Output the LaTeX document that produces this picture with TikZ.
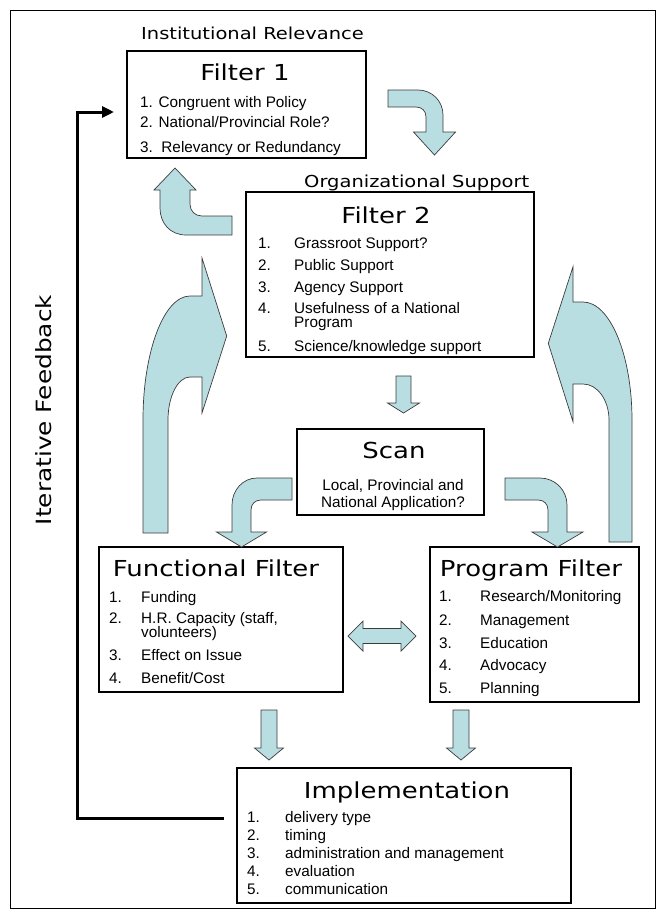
\documentclass[tikz,border=0pt]{standalone}
\usepackage{fontspec}
\setmainfont{Liberation Sans}
\newfontfamily\hfont[FakeStretch=1.18]{DejaVu Sans}
\usetikzlibrary{arrows.meta}
\definecolor{arrowblue}{RGB}{184,222,226}
\definecolor{arrowline}{RGB}{60,60,60}
\begin{document}
\begin{tikzpicture}[x=1pt,y=-1pt,
  box/.style={draw=black, line width=2.5pt, inner sep=0pt, fill=white},
  blk/.style={fill=arrowblue, draw=arrowline, line width=0.7pt, line join=miter},
  head/.style={font=\hfont\fontsize{22}{26}\selectfont, anchor=base, inner sep=0pt},
  sub/.style={font=\hfont\fontsize{16.5}{19}\selectfont, anchor=base, inner sep=0pt},
  item/.style={font=\fontsize{15.3}{18}\selectfont, anchor=base west, inner sep=0pt},
  citem/.style={font=\fontsize{15.3}{18}\selectfont, anchor=base, inner sep=0pt},
  fb/.style={line width=3pt, draw=black, line join=miter},
]
\useasboundingbox (0,0) rectangle (665,919);
\node[draw=black, line width=1pt, minimum width=645pt, minimum height=898pt, inner sep=0pt] (frame) at (332.5,459.5) {};

% boxes
\node[box, minimum width=239pt, minimum height=107pt] (f1) at (246.5,104.5) {};
\node[box, minimum width=288pt, minimum height=165pt] (f2) at (390,274.5) {};
\node[box, minimum width=187pt, minimum height=86pt] (scan) at (390.5,472) {};
\node[box, minimum width=244pt, minimum height=145pt] (func) at (221,619.5) {};
\node[box, minimum width=209pt, minimum height=155pt] (prog) at (534.5,624.5) {};
\node[box, minimum width=334pt, minimum height=135pt] (impl) at (404,835.5) {};

% Filter 1
\node[sub] (t1) at (252.5,39) {Institutional Relevance};
\node[head] (h1) at (245,80) {Filter 1};
\node[item] (f1a) at (140,107) {1. Congruent with Policy};
\node[item] (f1b) at (140,127) {2. National/Provincial Role?};
\node[item] (f1c) at (140,152) {3.\ \ Relevancy or Redundancy};

% Filter 2
\node[sub] (t2) at (416.7,187.5) {Organizational Support};
\node[head] (h2) at (386,223) {Filter 2};
\node[item] (f2n1) at (258,248) {1.};
\node[item] (f2a) at (294,248) {Grassroot Support?};
\node[item] (f2n2) at (258,270) {2.};
\node[item] (f2b) at (294,270) {Public Support};
\node[item] (f2n3) at (258,292) {3.};
\node[item] (f2c) at (294,292) {Agency Support};
\node[item] (f2n4) at (258,313) {4.};
\node[item] (f2d) at (294,313) {Usefulness of a National};
\node[item] (f2d2) at (294,327) {Program};
\node[item] (f2n5) at (258,351) {5.};
\node[item] (f2e) at (294,351) {Science/knowledge support};

% Scan
\node[head] (h3) at (394,458) {Scan};
\node[citem] (sc1) at (393,490) {Local, Provincial and};
\node[citem] (sc2) at (393,507) {National Application?};

% Functional filter
\node[head] (h4) at (216,576) {Functional Filter};
\node[item] (fn1) at (109,602) {1.};
\node[item] (fa) at (141,602) {Funding};
\node[item] (fn2) at (109,623) {2.};
\node[item] (fb1) at (141,623) {H.R. Capacity (staff,};
\node[item] (fb2) at (141,637) {volunteers)};
\node[item] (fn3) at (109,660) {3.};
\node[item] (fc) at (141,660) {Effect on Issue};
\node[item] (fn4) at (109,683) {4.};
\node[item] (fd) at (141,683) {Benefit/Cost};

% Program filter
\node[head] (h5) at (531,576) {Program Filter};
\node[item] (pn1) at (439,601) {1.};
\node[item] (pa) at (480,601) {Research/Monitoring};
\node[item] (pn2) at (439,625) {2.};
\node[item] (pb) at (480,625) {Management};
\node[item] (pn3) at (439,648) {3.};
\node[item] (pc) at (480,648) {Education};
\node[item] (pn4) at (439,670) {4.};
\node[item] (pd) at (480,670) {Advocacy};
\node[item] (pn5) at (439,693) {5.};
\node[item] (pe) at (480,693) {Planning};

% Implementation
\node[head] (h6) at (407,798) {Implementation};
\node[item] (in1) at (247,822) {1.};
\node[item] (ia) at (285,822) {delivery type};
\node[item] (in2) at (247,840) {2.};
\node[item] (ib) at (285,840) {timing};
\node[item] (in3) at (247,858) {3.};
\node[item] (ic) at (285,858) {administration and management};
\node[item] (in4) at (247,876) {4.};
\node[item] (id) at (285,876) {evaluation};
\node[item] (in5) at (247,894) {5.};
\node[item] (ie) at (285,894) {communication};

% Iterative feedback
\node[font=\hfont\fontsize{21}{25}\selectfont, rotate=90, inner sep=0pt] (itf) at (44,410) {Iterative Feedback};
\coordinate (fbs) at (224,818);
\coordinate (fbc1) at (77,818);
\coordinate (fbc2) at (77,112);
\coordinate (fbe) at (114,112);
\draw[fb, -{Triangle[length=12pt,width=11pt]}] (fbs) -- (fbc1) -- (fbc2) -- (fbe);

% block arrows
% A: Filter 1 -> Filter 2
\draw[blk] (388,90) -- (418,90) .. controls (432,90) and (443,101) .. (443,115) -- (443,132) -- (455.5,132) -- (434.5,155) -- (413.5,132) -- (426,132) -- (426,117) .. controls (426,111) and (422,107) .. (416,107) -- (388,107) -- cycle;
% B: Filter 2 -> Filter 1
\draw[blk] (232,216) -- (202,216) .. controls (195,216) and (190,211) .. (190,204) -- (190,190) -- (196,190) -- (175,168) -- (154,190) -- (160,190) -- (160,208) .. controls (160,223) and (170,235) .. (186,235) -- (232,235) -- cycle;
% C: functional -> Filter 2 (left big)
\draw[blk] (143,533) -- (143,420) .. controls (143,351.5) and (164,296) .. (190,296) -- (202,296) -- (202,258) -- (226.7,336) -- (202,413) -- (202,377) -- (190,377) .. controls (177.9,377) and (168,396.3) .. (168,420) -- (168,533) -- cycle;
% D: program -> Filter 2 (right big)
\draw[blk] (632,542) -- (632,420) .. controls (632,354.9) and (610,302) .. (583,302) -- (573,302) -- (573,266.7) -- (548.3,343.3) -- (573,421.7) -- (573,384) -- (583,384) .. controls (597.4,384) and (609,400.1) .. (609,420) -- (609,542) -- cycle;
% E: Filter 2 -> Scan
\draw[blk] (396,376) -- (411,376) -- (411,403) -- (419.5,403) -- (403.5,413) -- (387.5,403) -- (396,403) -- cycle;
% F: Scan -> Functional
\draw[blk] (292,478) -- (257,478) .. controls (243,478) and (232,490) .. (232,505) -- (232,532) -- (216.5,532) -- (241.5,547) -- (266.5,532) -- (251,532) -- (251,510) .. controls (251,504) and (255,500) .. (261,500) -- (292,500) -- cycle;
% G: Scan -> Program
\draw[blk] (505,478) -- (540,478) .. controls (555,478) and (567,490) .. (567,505) -- (567,532) -- (583,532) -- (557.5,547) -- (532,532) -- (548,532) -- (548,510) .. controls (548,504) and (544,500) .. (538,500) -- (505,500) -- cycle;
% H: double arrow
\draw[blk] (348,636) -- (363,621) -- (363,628.5) -- (401,628.5) -- (401,621) -- (416,636) -- (401,651) -- (401,643.5) -- (363,643.5) -- (363,651) -- cycle;
% I, J: to implementation
\draw[blk] (261,710) -- (277,710) -- (277,748) -- (283.5,748) -- (269,760) -- (254.5,748) -- (261,748) -- cycle;
\draw[blk] (453,710) -- (469,710) -- (469,748) -- (475.5,748) -- (461,760) -- (446.5,748) -- (453,748) -- cycle;
\end{tikzpicture}
\end{document}
